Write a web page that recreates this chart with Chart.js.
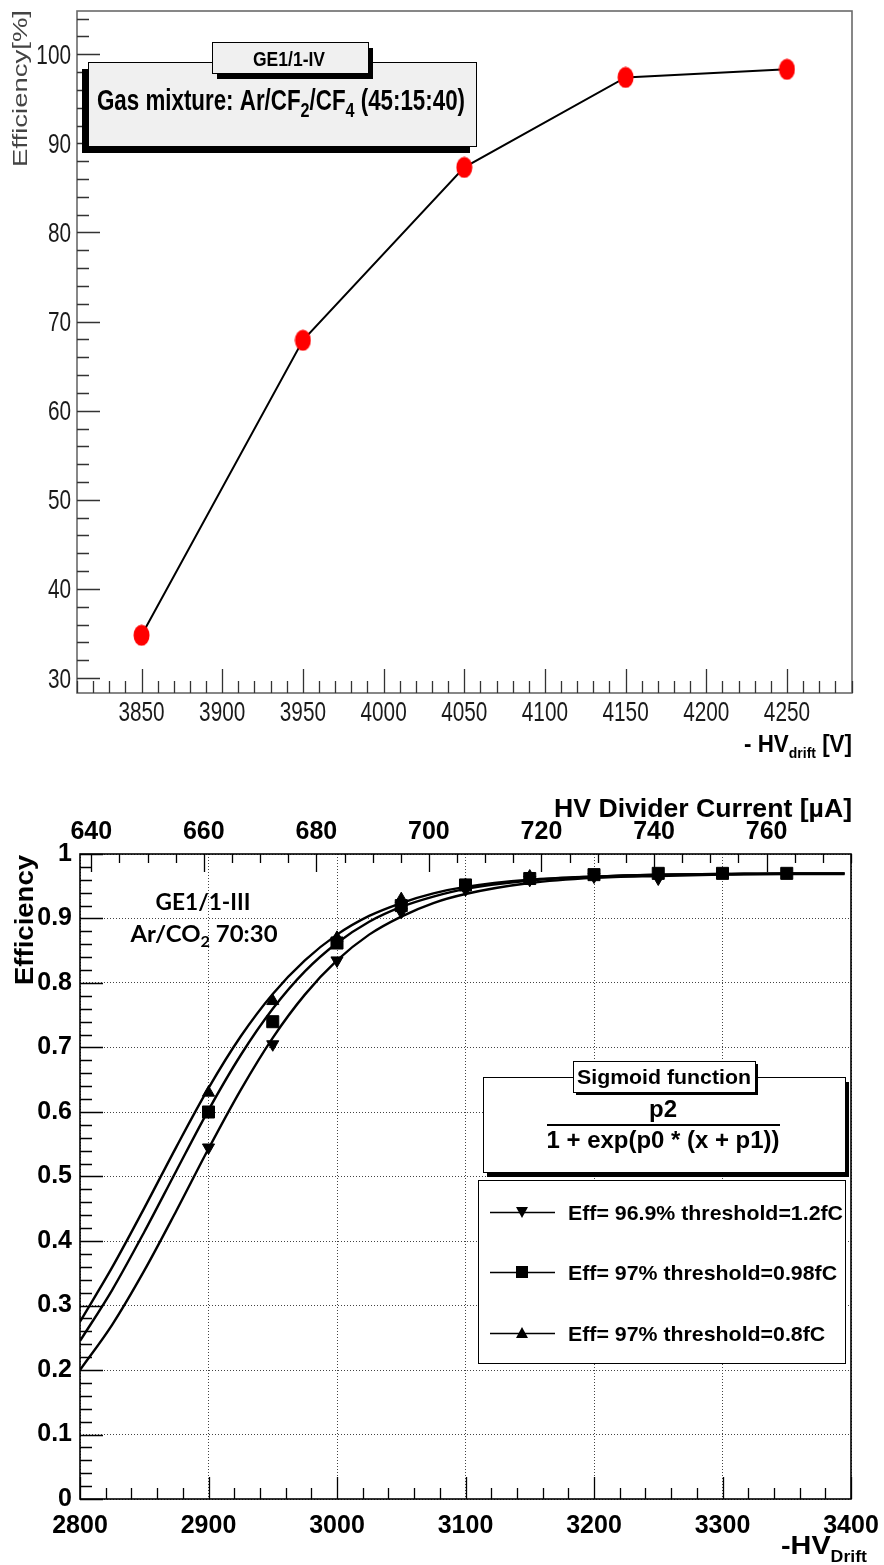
<!DOCTYPE html>
<html>
<head>
<meta charset="utf-8">
<title>GE1/1 efficiency</title>
<script src="https://cdn.jsdelivr.net/npm/chart.js@4.4.1/dist/chart.umd.min.js"></script>
<style>
  html, body { margin: 0; padding: 0; background: #fff; }
  #wrap { position: relative; width: 884px; height: 1565px; }
  .pane { position: absolute; left: 0; width: 884px; }
  #topPane { top: 0; height: 770px; }
  #botPane { top: 770px; height: 795px; }
</style>
</head>
<body>
<div id="wrap">
  <div class="pane" id="topPane"><canvas id="effTop"></canvas></div>
  <div class="pane" id="botPane"><canvas id="effBot"></canvas></div>
</div>
<script>
// ---- top plot: GE1/1-IV, Ar/CF2/CF4
const hvDrift = [3850, 3950, 4050, 4150, 4250];
const effGasMix = [34.8, 67.9, 87.3, 97.4, 98.3];
const topXTicks = [3850, 3900, 3950, 4000, 4050, 4100, 4150, 4200, 4250];
const topYTicks = [30, 40, 50, 60, 70, 80, 90, 100];

// ---- bottom plot: GE1/1-III, Ar/CO2 70:30
const hvPoints = [2900, 2950, 3000, 3050, 3100, 3150, 3200, 3250, 3300, 3350];
const eff12fC = [0.545, 0.705, 0.835, 0.91, 0.945, 0.96, 0.965, 0.962];
const eff098fC = [0.60, 0.74, 0.862, 0.92, 0.952, 0.962, 0.968, 0.97, 0.97, 0.97];
const eff08fC = [0.63, 0.772, 0.87, 0.93, 0.952, 0.965];

// sigmoid fit curves
const hvFit = [2800, 2825, 2850, 2875, 2900, 2925, 2950, 2975, 3000, 3025, 3050, 3075, 3100, 3150, 3200, 3250, 3300, 3350, 3395];
const fit12fC = [0.200, 0.270, 0.354, 0.447, 0.543, 0.634, 0.715, 0.782, 0.835, 0.875, 0.903, 0.924, 0.938, 0.955, 0.963, 0.966, 0.968, 0.969, 0.969];
const fit098fC = [0.245, 0.324, 0.414, 0.509, 0.603, 0.688, 0.760, 0.818, 0.862, 0.895, 0.918, 0.934, 0.946, 0.959, 0.965, 0.968, 0.969, 0.970, 0.970];
const fit08fC = [0.275, 0.359, 0.451, 0.546, 0.637, 0.717, 0.783, 0.835, 0.875, 0.904, 0.924, 0.939, 0.949, 0.960, 0.965, 0.968, 0.969, 0.970, 0.970];

const botXTicks = [2800, 2900, 3000, 3100, 3200, 3300, 3400];
const botYTicks = [0, 0.1, 0.2, 0.3, 0.4, 0.5, 0.6, 0.7, 0.8, 0.9, 1];
const currentTicks = [640, 660, 680, 700, 720, 740, 760];

const legendLabels = ["Eff= 96.9% threshold=1.2fC", "Eff= 97% threshold=0.98fC", "Eff= 97% threshold=0.8fC"];

const SANS = "'Liberation Sans', Arial, sans-serif";

function pts(xs, ys) {
  return ys.map((y, i) => ({ x: xs[i], y: y }));
}

// no padding for label overflow, the frame must sit where ROOT put it
function noPad(s) {
  s.paddingTop = 0;
  s.paddingBottom = 0;
  s.paddingLeft = 0;
  s.paddingRight = 0;
}

// text made of pieces (for sub/superscripts), optionally squeezed to a width
function drawRich(ctx, parts, x, y, o) {
  ctx.save();
  const fam = o.family || SANS;
  const wt = o.weight || "normal";
  const widths = [];
  let w = 0;
  parts.forEach(p => {
    ctx.font = wt + " " + p[1] + "px " + fam;
    const pw = ctx.measureText(p[0]).width;
    widths.push(pw);
    w += pw;
  });
  const sx = o.sx || (o.width ? o.width / w : 1);
  const tw = w * sx;
  let x0 = x;
  if (o.align === "center") x0 = x - tw / 2;
  if (o.align === "right") x0 = x - tw;
  ctx.translate(x0, y);
  ctx.scale(sx, 1);
  ctx.fillStyle = o.color || "#000";
  ctx.textAlign = "left";
  ctx.textBaseline = "alphabetic";
  let cx = 0;
  parts.forEach((p, i) => {
    ctx.font = wt + " " + p[1] + "px " + fam;
    ctx.fillText(p[0], cx, p[2] || 0);
    cx += widths[i];
  });
  ctx.restore();
  return sx;
}

function drawUp(ctx, parts, x, y, o) {
  ctx.save();
  ctx.translate(x, y);
  ctx.rotate(-Math.PI / 2);
  drawRich(ctx, parts, 0, 0, Object.assign({ align: "right" }, o));
  ctx.restore();
}

// ROOT style tick marks pointing into the frame
function drawTicks(chart, specs) {
  const ctx = chart.ctx;
  const a = chart.chartArea;
  specs.forEach(s => {
    const sc = chart.scales[s.id];
    ctx.save();
    ctx.strokeStyle = s.color || "#000";
    ctx.lineWidth = s.width || 1.3;
    ctx.beginPath();
    const start = Math.ceil((sc.min - 1e-9) / s.minor) * s.minor;
    for (let v = start; v <= sc.max + 1e-9; v += s.minor) {
      const r = v / s.major;
      const isMajor = Math.abs(r - Math.round(r)) < 1e-6;
      const len = isMajor ? s.majorLen : s.minorLen;
      const p = Math.round(sc.getPixelForValue(v)) + 0.5;
      if (s.side === "bottom") { ctx.moveTo(p, a.bottom); ctx.lineTo(p, a.bottom - len); }
      if (s.side === "top") { ctx.moveTo(p, a.top); ctx.lineTo(p, a.top + len); }
      if (s.side === "left") { ctx.moveTo(a.left, p); ctx.lineTo(a.left + len, p); }
    }
    ctx.stroke();
    ctx.restore();
  });
}

function boxWithShadow(ctx, x, y, w, h, dx, dy, fill) {
  ctx.fillStyle = "#000";
  ctx.fillRect(x + dx, y + dy, w, h);
  ctx.fillStyle = fill;
  ctx.fillRect(x, y, w, h);
  ctx.strokeStyle = "#000";
  ctx.lineWidth = 1;
  ctx.strokeRect(x + 0.5, y + 0.5, w, h);
}

// red oval marker like the ROOT plot
const redDot = document.createElement("canvas");
redDot.width = 17;
redDot.height = 22;
(function () {
  const g = redDot.getContext("2d");
  g.fillStyle = "#ff0000";
  g.beginPath();
  g.ellipse(8.5, 11, 8, 10.5, 0, 0, Math.PI * 2);
  g.fill();
})();

// ---------------- top chart ----------------
const topDecor = {
  id: "topDecor",
  afterDatasetsDraw(chart) {
    const ctx = chart.ctx;
    const a = chart.chartArea;
    ctx.save();
    ctx.strokeStyle = "#6a6a6a";
    ctx.lineWidth = 1.6;
    ctx.strokeRect(a.left, a.top, a.right - a.left, a.bottom - a.top);
    ctx.restore();
    drawTicks(chart, [
      { id: "x", side: "bottom", minor: 10, major: 50, majorLen: 24, minorLen: 12, color: "#333" },
      { id: "y", side: "left", minor: 2, major: 10, majorLen: 23, minorLen: 12, color: "#333" }
    ]);

    // tick labels, narrow like the squeezed original
    const xs = chart.scales.x;
    const ys = chart.scales.y;
    topXTicks.forEach(v => {
      drawRich(ctx, [[String(v), 27]], xs.getPixelForValue(v), 721, { align: "center", sx: 0.77, color: "#1a1a1a" });
    });
    topYTicks.forEach(v => {
      drawRich(ctx, [[String(v), 27]], 71, ys.getPixelForValue(v) + 9.5, { align: "right", sx: 0.77, color: "#1a1a1a" });
    });

    // legend boxes
    ctx.save();
    boxWithShadow(ctx, 88, 62, 388, 84, -6, 7, "#f0f0f0");
    boxWithShadow(ctx, 212, 42, 156, 31, 5, 6, "#f0f0f0");
    ctx.restore();
    drawRich(ctx, [["GE1/1-IV", 20]], 289, 66, { weight: "bold", align: "center", width: 72 });
    drawRich(ctx, [["Gas mixture: Ar/CF", 29], ["2", 21, 7], ["/CF", 29], ["4", 21, 7], [" (45:15:40)", 29]],
      97, 110, { weight: "bold", width: 368 });

    // axis titles
    drawUp(ctx, [["Efficiency[%]", 20]], 27, 10, { width: 157, color: "#444" });
    drawRich(ctx, [["- HV", 24], ["drift", 15, 6], [" [V]", 24]], 852, 752,
      { weight: "bold", align: "right", width: 108 });
  }
};

new Chart(document.getElementById("effTop"), {
  type: "line",
  data: {
    datasets: [{
      data: pts(hvDrift, effGasMix),
      borderColor: "#000",
      borderWidth: 2,
      pointStyle: redDot,
      pointRadius: 9,
      tension: 0
    }]
  },
  options: {
    responsive: true,
    maintainAspectRatio: false,
    devicePixelRatio: 1,
    animation: false,
    events: [],
    layout: { padding: { left: 0, right: 32, top: 9, bottom: 0 } },
    plugins: { legend: { display: false }, tooltip: { enabled: false } },
    scales: {
      x: {
        type: "linear",
        min: 3810,
        max: 4290.3,
        afterBuildTicks: s => { s.ticks = topXTicks.map(v => ({ value: v })); },
        afterFit: s => { s.height = 77; noPad(s); },
        grid: { display: false },
        border: { display: false },
        ticks: { display: false }
      },
      y: {
        type: "linear",
        min: 28.32,
        max: 104.85,
        afterBuildTicks: s => { s.ticks = topYTicks.map(v => ({ value: v })); },
        afterFit: s => { s.width = 77; noPad(s); },
        grid: { display: false },
        border: { display: false },
        ticks: { display: false }
      }
    }
  },
  plugins: [topDecor]
});

// ---------------- bottom chart ----------------
function legendMarker(ctx, kind, x, y) {
  ctx.beginPath();
  if (kind === "down") { ctx.moveTo(x - 6, y - 5); ctx.lineTo(x + 6, y - 5); ctx.lineTo(x, y + 6); }
  if (kind === "up") { ctx.moveTo(x - 6, y + 5); ctx.lineTo(x + 6, y + 5); ctx.lineTo(x, y - 6); }
  if (kind === "sq") { ctx.rect(x - 6, y - 6, 12, 12); }
  ctx.closePath();
  ctx.fill();
}

const botDecor = {
  id: "botDecor",
  afterDatasetsDraw(chart) {
    const ctx = chart.ctx;
    const a = chart.chartArea;
    ctx.save();
    ctx.strokeStyle = "#000";
    ctx.lineWidth = 1.6;
    ctx.strokeRect(a.left, a.top, a.right - a.left, a.bottom - a.top);
    ctx.restore();
    drawTicks(chart, [
      { id: "x", side: "bottom", minor: 20, major: 100, majorLen: 22, minorLen: 11 },
      { id: "x2", side: "top", minor: 5, major: 20, majorLen: 18, minorLen: 9 },
      { id: "y", side: "left", minor: 0.02, major: 0.1, majorLen: 23, minorLen: 12 }
    ]);

    // detector label
    drawRich(ctx, [["GE1/1-III", 22]], 203, 140, { family: "Lato, " + SANS, weight: "bold", align: "center", width: 95 });
    drawRich(ctx, [["Ar/CO", 22], ["2", 15, 5], [" 70:30", 22]], 204, 172,
      { family: "Lato, " + SANS, weight: "bold", align: "center", width: 147 });

    // fit function box
    ctx.save();
    boxWithShadow(ctx, 483, 307, 362, 95, 4, 5, "#fff");
    boxWithShadow(ctx, 573, 291, 182, 31, 3, 3, "#fff");
    ctx.restore();
    drawRich(ctx, [["Sigmoid function", 21]], 664, 314, { weight: "bold", align: "center", width: 174 });
    drawRich(ctx, [["p2", 24]], 663, 347, { weight: "bold", align: "center" });
    ctx.save();
    ctx.fillStyle = "#000";
    ctx.fillRect(547, 354, 233, 2);
    ctx.restore();
    drawRich(ctx, [["1 + exp(p0 * (x + p1))", 24]], 663, 378, { weight: "bold", align: "center", width: 233 });

    // legend
    ctx.save();
    ctx.fillStyle = "#fff";
    ctx.fillRect(478, 410, 367, 183);
    ctx.strokeStyle = "#000";
    ctx.lineWidth = 1;
    ctx.strokeRect(478.5, 410.5, 367, 183);
    const kinds = ["down", "sq", "up"];
    const rowY = [442, 502, 563];
    let sx = 0;
    kinds.forEach((k, i) => {
      const y = rowY[i];
      ctx.strokeStyle = "#000";
      ctx.lineWidth = 1.5;
      ctx.beginPath();
      ctx.moveTo(490, y + 0.5);
      ctx.lineTo(555, y + 0.5);
      ctx.stroke();
      ctx.fillStyle = "#000";
      legendMarker(ctx, k, 522, y);
      if (i === 0) {
        sx = drawRich(ctx, [[legendLabels[i], 21]], 568, y + 8, { weight: "bold", width: 275 });
      } else {
        drawRich(ctx, [[legendLabels[i], 21]], 568, y + 8, { weight: "bold", sx: sx });
      }
    });
    ctx.restore();

    // axis titles
    drawUp(ctx, [["Efficiency", 26]], 33, 85, { weight: "bold", width: 130 });
    drawRich(ctx, [["HV Divider Current [\u00b5A]", 25]], 852, 47, { weight: "bold", align: "right", width: 298 });
    drawRich(ctx, [["-HV", 26], ["Drift", 16, 8]], 867, 784, { weight: "bold", align: "right", width: 86 });
  }
};

const curveStyle = {
  borderColor: "#000",
  borderWidth: 2.4,
  pointRadius: 0,
  fill: false,
  cubicInterpolationMode: "monotone"
};
const markStyle = {
  showLine: false,
  pointRadius: 7,
  pointBackgroundColor: "#000",
  pointBorderColor: "#000",
  pointBorderWidth: 1
};
const tickFont = { family: SANS, size: 25, weight: "bold" };
const plainLabel = v => String(v);

new Chart(document.getElementById("effBot"), {
  type: "line",
  data: {
    datasets: [
      Object.assign({ data: pts(hvPoints, eff12fC), pointStyle: "triangle", pointRotation: 180 }, markStyle),
      Object.assign({ data: pts(hvPoints, eff098fC), pointStyle: "rect" }, markStyle, { pointRadius: 8.5 }),
      Object.assign({ data: pts(hvPoints, eff08fC), pointStyle: "triangle" }, markStyle),
      Object.assign({ data: pts(hvFit, fit12fC) }, curveStyle),
      Object.assign({ data: pts(hvFit, fit098fC) }, curveStyle),
      Object.assign({ data: pts(hvFit, fit08fC) }, curveStyle)
    ]
  },
  options: {
    responsive: true,
    maintainAspectRatio: false,
    devicePixelRatio: 1,
    animation: false,
    events: [],
    layout: { padding: { left: 0, right: 33, top: 0, bottom: 0 } },
    plugins: { legend: { display: false }, tooltip: { enabled: false } },
    scales: {
      x: {
        type: "linear",
        position: "bottom",
        min: 2800,
        max: 3400,
        afterBuildTicks: s => { s.ticks = botXTicks.map(v => ({ value: v })); },
        afterFit: s => { s.height = 66; noPad(s); },
        grid: { color: "#444", lineWidth: 1, drawTicks: false },
        border: { display: false, dash: [1, 2] },
        ticks: { font: tickFont, color: "#000", padding: 12, maxRotation: 0, autoSkip: false, callback: plainLabel }
      },
      x2: {
        type: "linear",
        position: "top",
        min: 638,
        max: 775,
        afterBuildTicks: s => { s.ticks = currentTicks.map(v => ({ value: v })); },
        afterFit: s => { s.height = 84; noPad(s); },
        grid: { display: false },
        border: { display: false },
        ticks: { font: tickFont, color: "#000", padding: -1, maxRotation: 0, autoSkip: false, callback: plainLabel }
      },
      y: {
        type: "linear",
        min: 0,
        max: 1,
        afterBuildTicks: s => { s.ticks = botYTicks.map(v => ({ value: v })); },
        afterFit: s => { s.width = 80; noPad(s); },
        grid: { color: "#444", lineWidth: 1, drawTicks: false },
        border: { display: false, dash: [1, 2] },
        ticks: { font: tickFont, color: "#000", padding: 8, callback: plainLabel }
      }
    }
  },
  plugins: [botDecor]
});
</script>
</body>
</html>
